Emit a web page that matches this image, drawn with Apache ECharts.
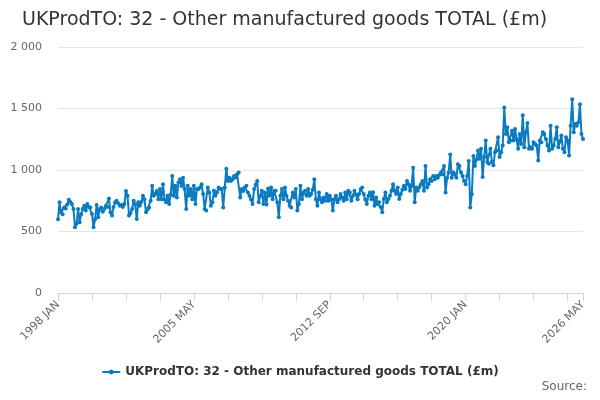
<!DOCTYPE html>
<html>
<head>
<meta charset="utf-8">
<script src="https://cdn.jsdelivr.net/npm/echarts@6/dist/echarts.min.js"></script>
<style>
  html, body { margin: 0; padding: 0; background: #fff; }
  #chart { width: 600px; height: 400px; }
</style>
</head>
<body>
<div id="chart"></div>
<script>
// monthly series, 1998 JAN .. 2026 MAY
const MONTHS = ['JAN','FEB','MAR','APR','MAY','JUN','JUL','AUG','SEP','OCT','NOV','DEC'];
const START_YEAR = 1998;

const values = [
  600, 737, 656, 640, 696, 688, 720, 758, 740, 723, 683, 535,   // 1998
  562, 683, 575, 640, 683, 710, 670, 723, 700, 696, 643, 535,   // 1999
  600, 715, 616, 683, 696, 660, 683, 710, 700, 769, 656, 630,   // 2000
  700, 737, 750, 730, 710, 715, 700, 723, 830, 790, 630, 650,   // 2001
  683, 750, 720, 602, 737, 710, 740, 790, 763, 656, 680, 696,   // 2002
  750, 871, 790, 804, 830, 763, 845, 763, 885, 760, 737, 790,   // 2003
  723, 800, 952, 790, 871, 777, 898, 925, 870, 938, 845, 683,   // 2004
  871, 790, 845, 763, 871, 723, 845, 845, 858, 885, 804, 683,   // 2005
  670, 858, 817, 710, 737, 831, 790, 820, 858, 845, 845, 696,   // 2006
  858, 1011, 911, 938, 911, 925, 952, 940, 965, 979, 777, 845,  // 2007
  830, 858, 871, 817, 790, 760, 723, 845, 880, 911, 737, 790,   // 2008
  831, 723, 817, 720, 850, 790, 858, 763, 831, 831, 737, 616,   // 2009
  790, 845, 763, 858, 790, 750, 710, 696, 817, 777, 845, 670,   // 2010
  723, 871, 763, 817, 831, 790, 845, 790, 804, 840, 925, 763,   // 2011
  710, 817, 763, 737, 777, 750, 804, 750, 790, 760, 670, 763,   // 2012
  790, 737, 763, 804, 777, 750, 817, 763, 831, 817, 750, 790,   // 2013
  831, 800, 763, 804, 845, 858, 804, 760, 723, 790, 817, 763,   // 2014
  820, 710, 777, 723, 737, 700, 656, 764, 817, 737, 764, 790,   // 2015
  831, 885, 831, 804, 858, 764, 804, 840, 871, 845, 911, 885,   // 2016
  831, 871, 1019, 737, 858, 831, 860, 885, 911, 831, 1032, 858, // 2017
  885, 925, 911, 952, 925, 952, 938, 960, 979, 965, 1032, 817,  // 2018
  938, 979, 1127, 938, 979, 965, 938, 1046, 1032, 979, 952, 911,     // 2019
  885, 952, 1073, 696, 804, 1113, 1032, 1086, 1159, 1091, 1172, 943, // 2020
  1105, 1239, 1065, 1051, 1172, 1065, 1038, 1145, 1159, 1266, 1105, 1145, // 2021
  1199, 1508, 1293, 1347, 1226, 1239, 1320, 1239, 1333, 1250, 1172, 1293, // 2022
  1212, 1446, 1185, 1306, 1382, 1172, 1185, 1172, 1226, 1212, 1200, 1078, // 2023
  1239, 1226, 1306, 1293, 1253, 1199, 1159, 1360, 1172, 1199, 1253, 1347, // 2024
  1185, 1230, 1280, 1172, 1145, 1266, 1239, 1118, 1360, 1575, 1306, 1373, // 2025
  1360, 1387, 1535, 1293, 1253                                             // 2026
];

const categories = values.map((v, i) =>
  (START_YEAR + Math.floor(i / 12)) + ' ' + MONTHS[i % 12]);

const seriesName = 'UKProdTO: 32 - Other manufactured goods TOTAL (£m)';
const lineColor = '#0b7bc1';
const last = values.length - 1;

let myChart = echarts.init(document.getElementById('chart'), null, {renderer: 'canvas'});

myChart.setOption({
  animation: false,
  textStyle: { fontFamily: 'DejaVu Sans' },
  title: [
    {
      text: seriesName,
      left: 17,
      top: 6,
      textStyle: { fontSize: 19, fontWeight: 'normal', color: '#333', fontFamily: 'DejaVu Sans' }
    },
    {
      text: 'Source:',
      right: 8,
      bottom: 2,
      textStyle: { fontSize: 12, fontWeight: 'normal', color: '#666', fontFamily: 'DejaVu Sans' }
    }
  ],
  legend: {
    bottom: 17,
    left: 'center',
    itemWidth: 18,
    itemHeight: 6,
    itemGap: 5,
    textStyle: { fontSize: 12, fontWeight: 'bold', color: '#333', fontFamily: 'DejaVu Sans' },
    data: [seriesName]
  },
  grid: { left: 58, right: 17, top: 47, bottom: 107 },
  xAxis: {
    type: 'category',
    data: categories,
    boundaryGap: false,
    axisLine: { lineStyle: { color: '#ccd6eb' } },
    axisTick: {
      length: 8,
      interval: (i) => i % 22 === 0 || i === last,
      lineStyle: { color: '#ccd6eb' }
    },
    axisLabel: {
      interval: (i) => i % 88 === 0 || i === last,
      rotate: 45,
      color: '#666',
      fontSize: 11,
      margin: 10
    }
  },
  yAxis: {
    type: 'value',
    min: 0,
    max: 2000,
    interval: 500,
    axisLine: { show: false },
    axisTick: { show: false },
    splitLine: { lineStyle: { color: '#e6e6e6' } },
    axisLabel: {
      color: '#666',
      fontSize: 11,
      margin: 16,
      formatter: (v) => String(v).replace(/\B(?=(\d{3})+(?!\d))/g, ' ')
    }
  },
  series: [{
    name: seriesName,
    type: 'line',
    data: values,
    symbol: 'circle',
    symbolSize: 4,
    showAllSymbol: true,
    lineStyle: { color: lineColor, width: 2 },
    itemStyle: { color: lineColor }
  }]
});
</script>
</body>
</html>
